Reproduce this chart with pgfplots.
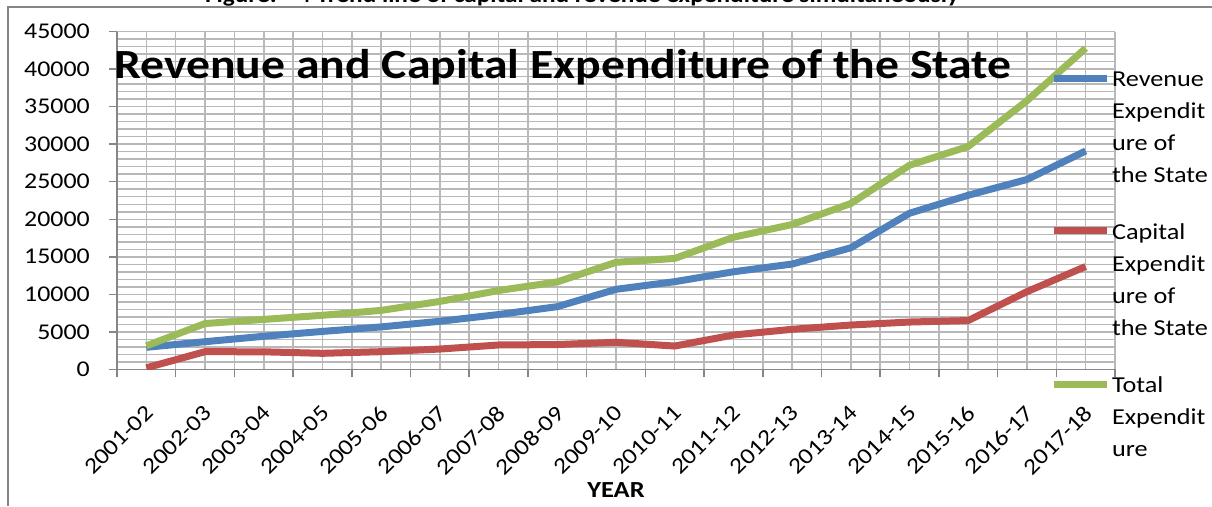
\documentclass[border=0pt]{standalone}
\usepackage{fontspec}
\setmainfont{Carlito}[FakeStretch=1.15]
\usepackage{pgfplots}
\pgfplotsset{compat=1.18}
\definecolor{revblue}{HTML}{4F81BD}
\definecolor{capred}{HTML}{C0504D}
\definecolor{totgreen}{HTML}{9BBB59}
\definecolor{gridgray}{HTML}{B8B8B8}
\definecolor{axisgray}{HTML}{868686}
\begin{document}
\begin{tikzpicture}[x=1pt,y=1pt]
\useasboundingbox (0,0) rectangle (1212,506);
\draw[axisgray, line width=1.5pt] (8,0) -- (8,499) -- (1212,499);
\node[anchor=base, font=\bfseries\fontsize{22}{26}\selectfont, inner sep=0pt] at (582,503) {Figure: - 4 Trend line of capital and revenue expenditure simultaneously};
\begin{axis}[
  at={(117pt,136.7pt)}, anchor=south west,
  width=998pt, height=337.6pt, scale only axis,
  xmin=-0.5, xmax=16.5, ymin=0, ymax=45000,
  axis x line*=bottom, axis y line*=left,
  axis line style={axisgray, line width=1.5pt, -},
  tick align=outside,
  major tick length=8pt,
  tick style={axisgray, line width=1.5pt},
  xtick={-0.5,0.5,...,16.5}, xticklabels={},
  extra x ticks={0,1,...,16},
  extra x tick labels={2001-02,2002-03,2003-04,2004-05,2005-06,2006-07,2007-08,2008-09,2009-10,2010-11,2011-12,2012-13,2013-14,2014-15,2015-16,2016-17,2017-18},
  extra x tick style={major tick length=0pt, grid=major,
     tick label style={inner sep=0pt, xshift=3pt, yshift=-40pt, rotate=45, anchor=east}},
  ytick={0,5000,...,45000},
  minor y tick num=4,
  minor tick length=0pt,
  xmajorgrids, ymajorgrids, yminorgrids,
  major grid style={gridgray, line width=1.5pt},
  minor grid style={gridgray, line width=1.5pt},
  scaled y ticks=false,
  /pgf/number format/1000 sep={},
  /pgf/number format/assume math mode=true,
  ticklabel style={font=\fontsize{22.5}{27}\selectfont},
  yticklabel style={inner sep=0pt, anchor=east, xshift=-19pt},
  xlabel={YEAR},
  xlabel style={at={(axis description cs:0.5,-0.3812)}, anchor=base, inner sep=0pt, font=\bfseries\fontsize{23}{27}\selectfont},
  legend style={at={(axis description cs:0.9349,0.8818)}, anchor=north west,
     draw=none, fill=none, inner sep=0pt, outer sep=0pt,
     row sep=40pt, column sep=2pt,
     font=\fontsize{22.8}{32}\selectfont,
     nodes={inner sep=0pt, outer sep=0pt, align=left},
     cells={anchor=north west}},
  legend image code/.code={\draw[#1] (0pt,-7pt) -- (53pt,-7pt);},
  every axis plot/.append style={line width=7pt, line join=round, no markers},
]
\addplot[revblue] coordinates {(0,2930)(1,3680)(2,4400)(3,5050)(4,5650)(5,6400)(6,7300)(7,8350)(8,10660)(9,11680)(10,13000)(11,14030)(12,16200)(13,20800)(14,23200)(15,25300)(16,29100)};
\addlegendentry{Revenue\\Expendit\\ure of\\the State}
\addplot[capred] coordinates {(0,200)(1,2350)(2,2330)(3,2130)(4,2350)(5,2700)(6,3240)(7,3300)(8,3600)(9,3100)(10,4570)(11,5330)(12,5900)(13,6300)(14,6500)(15,10350)(16,13700)};
\addlegendentry{Capital\\Expendit\\ure of\\the State}
\addplot[totgreen] coordinates {(0,3130)(1,6100)(2,6650)(3,7200)(4,7850)(5,9050)(6,10500)(7,11650)(8,14260)(9,14780)(10,17600)(11,19300)(12,22100)(13,27200)(14,29700)(15,35800)(16,42800)};
\addlegendentry{Total\\Expendit\\ure}
\end{axis}
\node[anchor=base west, inner sep=0pt, font=\bfseries\fontsize{41.5}{48}\selectfont] at (114,427.7) {Revenue and Capital Expenditure of the State};
\end{tikzpicture}
\end{document}
